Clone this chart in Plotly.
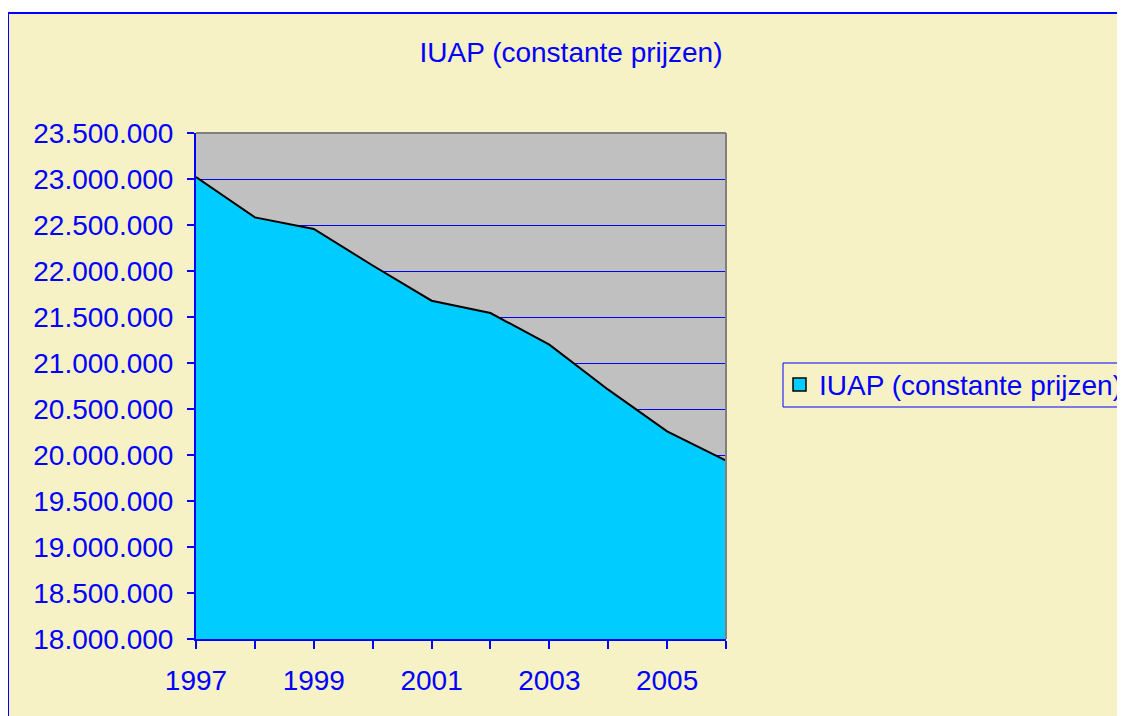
import plotly.graph_objects as go

years = [1997, 1998, 1999, 2000, 2001, 2002, 2003, 2004, 2005, 2006]
values = [23022000, 22583000, 22457000, 22060000, 21677000, 21543000, 21199000, 20710000, 20257000, 19938000]
series_name = "IUAP (constante prijzen)"
x_labels = ["1997", "", "1999", "", "2001", "", "2003", "", "2005", ""]

# figure pixel coords (page has an 8px body margin)
W, H = 1117, 708
L, R, T, B = 188, 718, 125, 631
BLUE = "#0000FF"
BEIGE = "#F7F2C6"
FONT = "Liberation Sans, Arial, sans-serif"

def px(x):
    return (x - L) / (R - L)

def py(y):
    return (B - y) / (B - T)

fig = go.Figure()
fig.add_trace(go.Scatter(
    x=years, y=values, mode="lines", fill="tozeroy",
    fillcolor="#00CCFF", line=dict(color="black", width=2),
    name=series_name, showlegend=False, hoverinfo="x+y",
))

shapes = [
    dict(type="rect", xref="paper", yref="paper", x0=px(-2), x1=px(W + 2), y0=py(5), y1=py(-2),
         fillcolor="white", line=dict(width=0)),
    dict(type="line", xref="paper", yref="paper", x0=px(0), x1=px(W + 2), y0=py(5), y1=py(5),
         line=dict(color=BLUE, width=2)),
    dict(type="line", xref="paper", yref="paper", x0=px(0), x1=px(0), y0=py(5), y1=py(H + 2),
         line=dict(color=BLUE, width=2)),
    dict(type="line", xref="paper", yref="paper", x0=0, x1=1, y0=1, y1=1,
         line=dict(color="#808080", width=2)),
    dict(type="line", xref="paper", yref="paper", x0=1, x1=1, y0=0, y1=1,
         line=dict(color="#808080", width=2)),
    dict(type="rect", xref="paper", yref="paper", x0=px(775), x1=px(W + 20), y0=py(399), y1=py(355),
         fillcolor=BEIGE, line=dict(color=BLUE, width=1)),
    dict(type="rect", xref="paper", yref="paper", x0=px(785), x1=px(798), y0=py(383), y1=py(370),
         fillcolor="#00CCFF", line=dict(color="black", width=1.5)),
]

annotations = [
    dict(text=series_name, xref="paper", yref="paper", x=px(809), y=py(377),
         xanchor="left", yanchor="middle", showarrow=False,
         font=dict(family=FONT, size=28, color=BLUE)),
]

fig.update_layout(
    width=W, height=H,
    margin=dict(l=L, r=W - R, t=T, b=H - B, pad=0),
    paper_bgcolor=BEIGE,
    plot_bgcolor="#C0C0C0",
    separators=",.",
    showlegend=False,
    title=dict(text=series_name, x=563 / W, xref="container", xanchor="center",
               y=1 - 44 / H, yref="container", yanchor="middle",
               font=dict(family=FONT, size=28, color=BLUE)),
    font=dict(family=FONT, size=28, color=BLUE),
    shapes=shapes,
    annotations=annotations,
)

fig.update_xaxes(
    range=[years[0], years[-1]], tickvals=years, ticktext=x_labels,
    showgrid=False, zeroline=False, showline=True, linecolor=BLUE, linewidth=2,
    ticks="outside", ticklen=8, tickcolor=BLUE, tickwidth=1.5,
    tickfont=dict(family=FONT, size=28, color=BLUE), ticklabelstandoff=7,
)
fig.update_yaxes(
    range=[18000000, 23500000], dtick=500000, tick0=18000000, tickformat=",d",
    showgrid=True, gridcolor=BLUE, gridwidth=1, zeroline=False,
    showline=True, linecolor=BLUE, linewidth=2,
    ticks="outside", ticklen=7, tickcolor=BLUE, tickwidth=1.5,
    tickfont=dict(family=FONT, size=28, color=BLUE), ticklabelstandoff=8,
)

fig.write_html(
    "out.html",
    post_script="document.documentElement.style.overflow='hidden';document.body.style.overflow='hidden';",
)
